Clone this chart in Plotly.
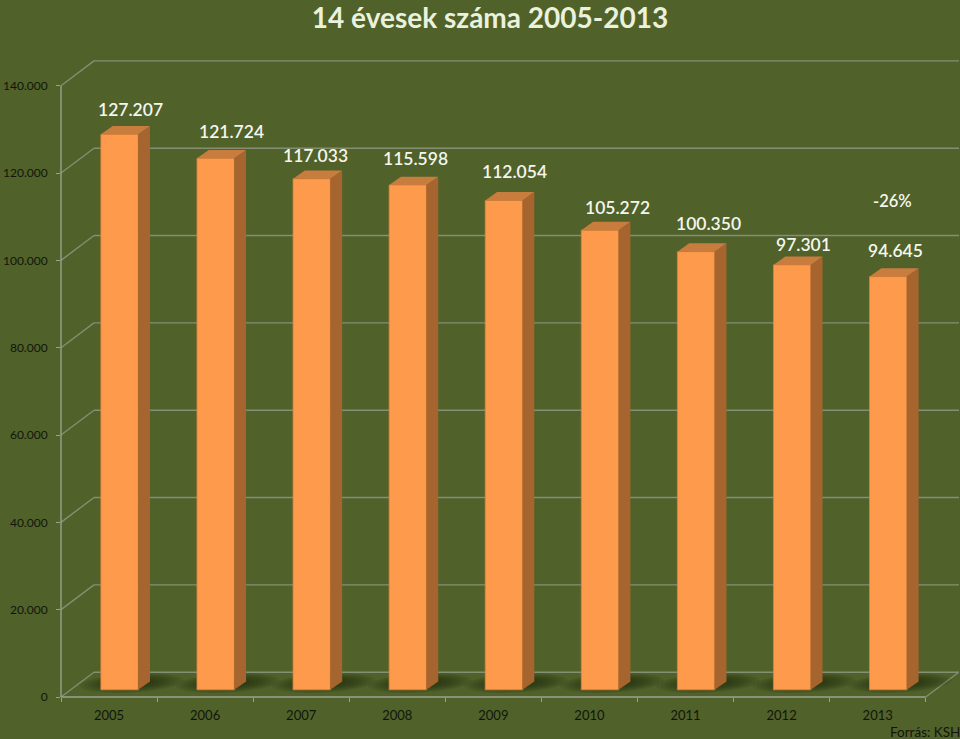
import math
import plotly.graph_objects as go

years = [2005, 2006, 2007, 2008, 2009, 2010, 2011, 2012, 2013]
values = [127207, 121724, 117033, 115598, 112054, 105272, 100350, 97301, 94645]
y_ticks = [0, 20000, 40000, 60000, 80000, 100000, 120000, 140000]
label_dx = [21, 26, 14, 18, 21, 28, 23, 22, 18]
label_dy = [32, 34, 30, 34, 36, 30, 35, 28, 33]

W, H = 960, 739
L, R, T, B = 61, 0, 61, 42
plot_w = W - L - R
plot_h = H - T - B
slot = 96.08
ppu = 611.3 / 140000
x_lo = years[0] - 0.5
x_hi = x_lo + plot_w / slot
y_hi = plot_h / ppu


def ux(px):
    return px / slot


def uy(px):
    return px / ppu


BG = "#50612A"
GRID = "#848F74"
AXIS = "#9AA390"
FRONT = "#FD9A4C"
TOP = "#C87C3E"
SIDE = "#A6652F"
INK = "#12160A"
WHITE = "#F4F6EE"
TITLE = "#EAF1DD"

wall_dx, wall_dy = ux(33), uy(24.8)
bar_w = 37.3 / slot
bar_off = ux(10.5)
bar_base = uy(7.2)
depth_x, depth_y = ux(11.8), uy(8.4)

shapes = []


def seg(x0, y0, x1, y1, color=GRID):
    shapes.append(dict(type="line", xref="paper", yref="paper",
                       x0=(x0 - x_lo) / (x_hi - x_lo), y0=y0 / y_hi,
                       x1=(x1 - x_lo) / (x_hi - x_lo), y1=y1 / y_hi,
                       line=dict(color=color, width=1.4), layer="below"))


for t in y_ticks:
    seg(x_lo, t, x_lo + wall_dx, t + wall_dy)
    seg(x_lo + wall_dx, t + wall_dy, x_hi - ux(1), t + wall_dy)
seg(x_lo, 0, x_lo, y_ticks[-1], AXIS)
seg(x_lo, 0, years[-1] + 0.5, 0, AXIS)
seg(years[-1] + 0.5, 0, years[-1] + 0.5 + wall_dx, wall_dy)

# soft floor shadow behind each bar, built from stacked translucent skewed ellipses
for yr in years:
    cx = yr + bar_off + ux(12)
    cy = uy(14)
    for s in [1.0, 0.92, 0.84, 0.76, 0.68, 0.6, 0.52, 0.44]:
        pts = []
        for k in range(24):
            a = 2 * math.pi * k / 24
            ex = 50 * s * math.cos(a)
            ey = 10 * s * math.sin(a)
            pts.append((cx + ux(ex + 1.4 * ey), cy + uy(ey)))
        path = "M" + " L".join(f"{a:.4f},{b:.1f}" for a, b in pts) + " Z"
        shapes.append(dict(type="path", xref="x", yref="y", path=path, layer="below",
                           fillcolor="rgba(28,36,10,0.1)", line=dict(width=0)))

bar_x = [y + bar_off for y in years]
side_x, side_y, top_x, top_y = [], [], [], []
for x, v in zip(bar_x, values):
    xr = x + bar_w / 2
    xl = x - bar_w / 2
    vt = v + bar_base
    side_x += [xr, xr + depth_x, xr + depth_x, xr, xr, None]
    side_y += [bar_base, bar_base + depth_y, vt + depth_y, vt, bar_base, None]
    top_x += [xl, xl + depth_x, xr + depth_x, xr, xl, None]
    top_y += [vt, vt + depth_y, vt + depth_y, vt, vt, None]

fig = go.Figure()
fig.add_trace(go.Bar(x=bar_x, y=values, base=bar_base, width=bar_w,
                     marker=dict(color=FRONT, line=dict(color="#DE8238", width=0.8)),
                     showlegend=False, hoverinfo="skip"))
fig.add_trace(go.Scatter(x=side_x, y=side_y, mode="lines", fill="toself", fillcolor=SIDE,
                         line=dict(width=0), showlegend=False, hoverinfo="skip"))
fig.add_trace(go.Scatter(x=top_x, y=top_y, mode="lines", fill="toself", fillcolor=TOP,
                         line=dict(width=0), showlegend=False, hoverinfo="skip"))

annotations = []
for yr, v, dx, dy in zip(years, values, label_dx, label_dy):
    annotations.append(dict(x=yr, y=v, xref="x", yref="y", text=f"{v:,}".replace(",", "."),
                            showarrow=False, xshift=dx, yshift=dy, xanchor="center", yanchor="middle",
                            font=dict(family="Lato", size=17.5, weight=600, color=WHITE)))
annotations.append(dict(x=(892 - L) / plot_w, y=(H - B - 201) / plot_h, xref="paper", yref="paper",
                        text="-26%", showarrow=False, xanchor="center", yanchor="middle",
                        font=dict(family="Lato", size=16.5, weight=600, color=WHITE)))
annotations.append(dict(x=(888 - L) / plot_w, y=(H - B - 732) / plot_h, xref="paper", yref="paper",
                        text="Forrás: KSH", showarrow=False, xanchor="left", yanchor="middle",
                        font=dict(family="Lato", size=13.5, color=INK)))

fig.update_layout(
    width=W, height=H, margin=dict(l=L, r=R, t=T, b=B, pad=0, autoexpand=False),
    paper_bgcolor=BG, plot_bgcolor=BG, separators=",.", showlegend=False,
    title=dict(text="<b>14 évesek száma 2005-2013</b>", x=490 / W, xanchor="center",
               y=1 - 18 / H, yanchor="middle", automargin=False,
               font=dict(family="Lato", size=28, color=TITLE)),
    shapes=shapes, annotations=annotations,
    xaxis=dict(range=[x_lo, x_hi], tickmode="array", tickvals=years, ticktext=[str(y) for y in years],
               ticks="", showgrid=False, zeroline=False, showline=False, ticklabelstandoff=9,
               automargin=False,
               tickfont=dict(family="Lato", size=13, color=INK),
               minor=dict(tickmode="array", tickvals=[y - 0.5 for y in years] + [years[-1] + 0.5],
                          ticks="outside", ticklen=4, tickcolor=AXIS, tickwidth=1.4, showgrid=False)),
    yaxis=dict(range=[0, y_hi], tickmode="array", tickvals=y_ticks, tickformat=",d",
               ticks="outside", ticklen=4, tickcolor=AXIS, tickwidth=1.4, showgrid=False, zeroline=False,
               showline=False, ticklabelstandoff=6, automargin=False,
               tickfont=dict(family="Lato", size=12, color=INK)),
)

fig.write_html("out.html", config=dict(displayModeBar=False),
               post_script="document.body.style.margin='0';document.body.style.overflow='hidden';")
